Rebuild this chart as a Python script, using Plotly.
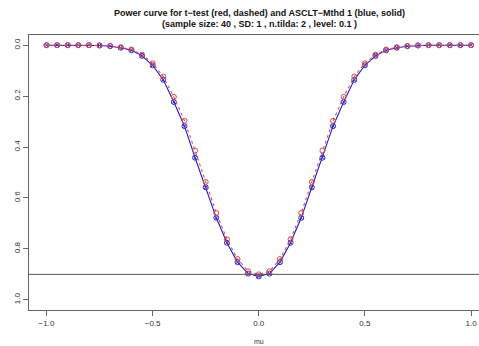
import plotly.graph_objects as go

mu = [round(-1 + 0.05 * i, 2) for i in range(41)]

# (values are 1 - power, axis reversed)
ttest_half = [0.0, 0.0, 0.0, 0.0, 0.0, 0.001, 0.003, 0.008, 0.017, 0.037,
              0.071, 0.123, 0.203, 0.297, 0.414, 0.537, 0.659, 0.762, 0.840, 0.888]
asclt_half = [0.0, 0.0, 0.0, 0.0, 0.0, 0.001, 0.004, 0.010, 0.020, 0.042,
              0.079, 0.136, 0.223, 0.318, 0.442, 0.558, 0.678, 0.776, 0.852, 0.897]
ttest_mid = 0.900
asclt_mid = 0.908

ttest = ttest_half + [ttest_mid] + ttest_half[::-1]
asclt = asclt_half + [asclt_mid] + asclt_half[::-1]

level_line = 0.9
x_ticks = [-1.0, -0.5, 0.0, 0.5, 1.0]
y_ticks = [0.0, 0.2, 0.4, 0.6, 0.8, 1.0]

title1 = "Power curve for t\u2212test (red, dashed) and ASCLT\u2212Mthd 1 (blue, solid)"
title2 = "(sample size: 40 , SD: 1 , n.tilda: 2 , level: 0.1 )"

L, T, B = 28.5, 35, 36
PW = 479 - L

fig = go.Figure()
fig.add_trace(go.Scatter(
    x=mu, y=asclt, mode="lines+markers",
    line=dict(color="#1f1fd0", width=1.1),
    marker=dict(symbol="circle-x-open", size=5, color="#2a2ad0", line=dict(width=1)),
    showlegend=False, name="ASCLT", hoverinfo="skip"))
fig.add_trace(go.Scatter(
    x=mu, y=ttest, mode="lines+markers",
    line=dict(color="#e05050", width=1.1, dash="3px,3px"),
    marker=dict(symbol="circle-open", size=5, color="#d84848", line=dict(width=1)),
    showlegend=False, name="t-test", hoverinfo="skip"))

fig.add_shape(type="line", xref="paper", x0=0, x1=1, yref="y", y0=level_line, y1=level_line,
              line=dict(color="#555555", width=1))

tx = (259 - L) / PW
fig.add_annotation(text="<b>" + title1 + "</b>", xref="paper", yref="paper",
                   x=tx, y=1, yshift=T - 13, showarrow=False,
                   font=dict(family="Liberation Sans, Arial", size=9, color="#111111"),
                   yanchor="middle", xanchor="center")
fig.add_annotation(text="<b>" + title2 + "</b>", xref="paper", yref="paper",
                   x=tx, y=1, yshift=T - 24, showarrow=False,
                   font=dict(family="Liberation Sans, Arial", size=9, color="#111111"),
                   yanchor="middle", xanchor="center")
fig.add_annotation(text="mu", xref="paper", yref="paper",
                   x=tx, y=0, yshift=-(341 - (346 - B)), showarrow=False,
                   font=dict(family="Liberation Sans, Arial", size=7, color="#333333"),
                   yanchor="middle", xanchor="center")

fig.update_layout(
    width=479, height=346,
    margin=dict(l=L, r=0, t=T, b=B, autoexpand=False),
    paper_bgcolor="white", plot_bgcolor="white", hovermode=False,
    font=dict(family="Liberation Sans, Arial", size=8, color="#333333"),
    xaxis=dict(range=[-1.0824, 1.0376], tickvals=x_ticks, ticktext=["\u22121.0", "\u22120.5", "0.0", "0.5", "1.0"],
               showgrid=False, zeroline=False, showline=True, linecolor="#666666", linewidth=1,
               mirror=True, ticks="outside", ticklen=5, tickcolor="#666666", automargin=False,
               tickfont=dict(size=8, color="#333333")),
    yaxis=dict(range=[1.04, -0.04], tickvals=y_ticks, ticktext=["0.0", "0.2", "0.4", "0.6", "0.8", "1.0"],
               showgrid=False, zeroline=False, showline=True, linecolor="#666666", linewidth=1,
               mirror=False, ticks="outside", ticklen=5, tickcolor="#666666", tickangle=-90,
               automargin=False, tickfont=dict(size=8, color="#333333")),
)

fig.write_html("out.html", config={"displayModeBar": False, "staticPlot": True},
               post_script="document.body.style.margin='0px';document.body.style.overflow='hidden';")
